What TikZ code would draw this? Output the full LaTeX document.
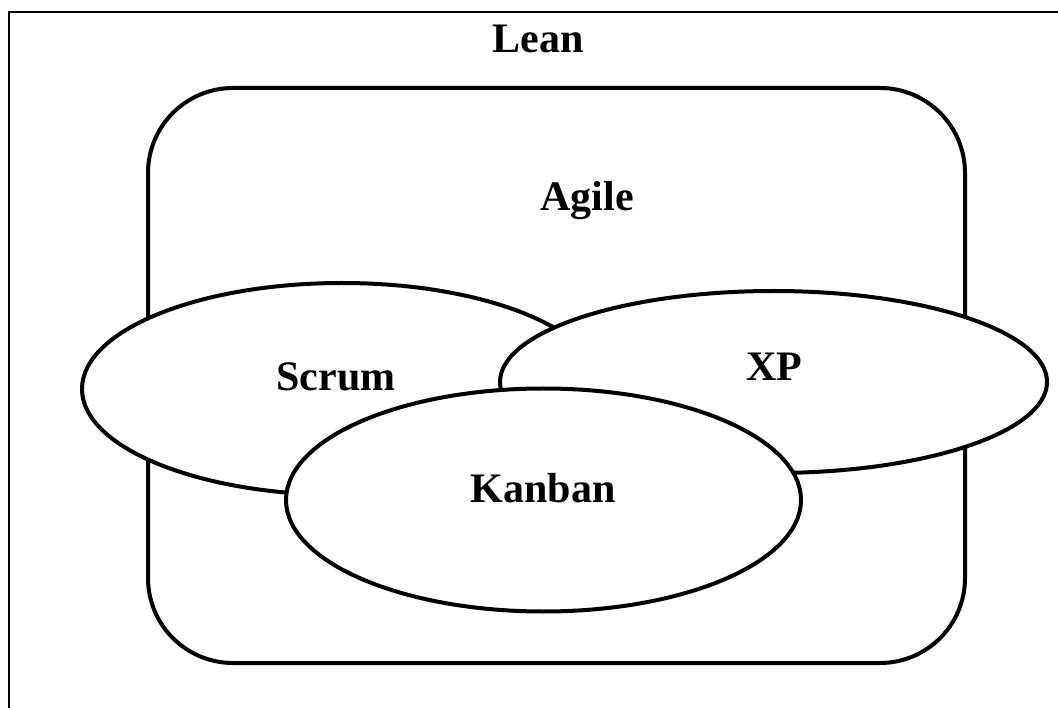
\documentclass[tikz,border=0pt]{standalone}
\usepackage{fontspec}
\setmainfont{Liberation Serif}
\usetikzlibrary{shapes.geometric}
\tikzset{
  oval/.style={ellipse, draw, fill=white, line width=4pt, inner sep=0pt},
  lbl/.style={anchor=base, font=\fontsize{42}{50}\selectfont\bfseries, inner sep=0pt},
}
\begin{document}
\begin{tikzpicture}[x=1pt, y=-1pt]
  \useasboundingbox (0,0) rectangle (1058,708);
  \clip (0,0) rectangle (1058,708);
  \fill[white] (0,0) rectangle (1058,708);
  % outer frame
  \draw[line width=2.2pt] (9,12) rectangle (1080,730);
  % Agile container
  \draw[line width=4pt, rounded corners=85pt] (148,88) rectangle (965,663);
  % methods
  \node[oval, minimum width=520pt, minimum height=212pt] (scrum) at (342,389) {};
  \node[oval, minimum width=547pt, minimum height=182pt] (xp) at (773.5,382) {};
  \node[oval, minimum width=515pt, minimum height=223pt] (kanban) at (543.5,500) {};
  % labels
  \node[lbl] (lean) at (538,53) {Lean};
  \node[lbl] (agile) at (587,211) {Agile};
  \node[lbl] (scrumt) at (336,391) {Scrum};
  \node[lbl] (xpt) at (774.5,381) {XP};
  \node[lbl] (kanbant) at (543,502) {Kanban};
\end{tikzpicture}
\end{document}
